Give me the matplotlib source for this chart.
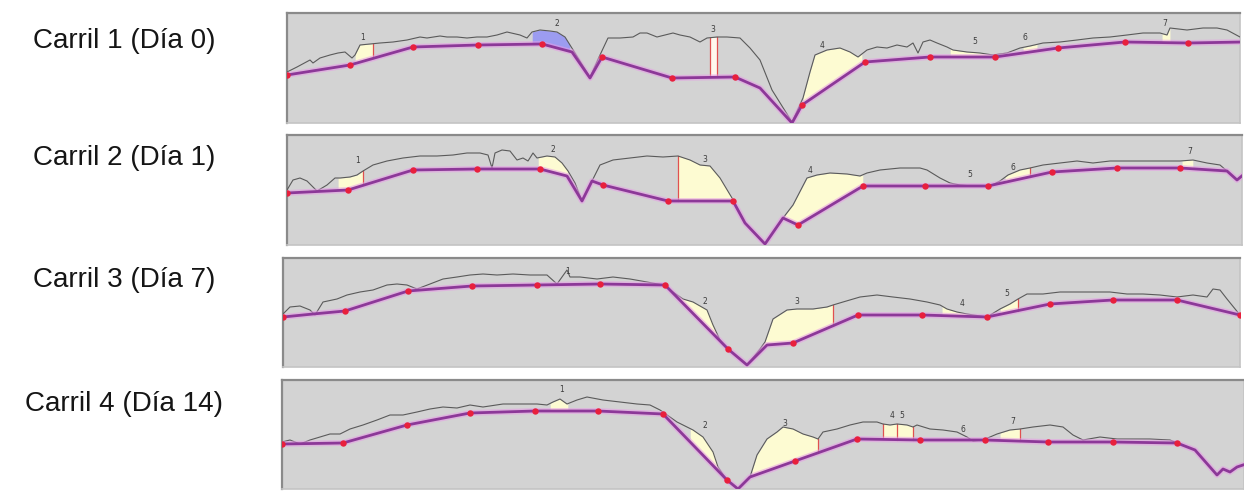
import numpy as np
import matplotlib
matplotlib.use("Agg")
import matplotlib.pyplot as plt

# Perfiles densitométricos de los cuatro carriles (posición, intensidad)

carriles = ["Carril 1 (Día 0)", "Carril 2 (Día 1)", "Carril 3 (Día 7)", "Carril 4 (Día 14)"]

# --- Carril 1 ---
perfil1_x = [287, 297, 310, 313, 320, 330, 338, 345, 352, 355, 360, 370, 380, 393, 407, 420, 427, 440, 447, 457,
             467, 477, 487, 497, 507, 520, 527, 532, 540, 550, 557, 565, 570, 580, 590, 600, 608, 620, 633, 640,
             647, 657, 665, 673, 680, 690, 700, 707, 717, 727, 740, 750, 760, 772, 792, 803, 810, 815, 827, 840,
             850, 858, 867, 877, 887, 897, 907, 913, 918, 923, 930, 937, 947, 953, 967, 980, 993, 1007, 1020, 1030,
             1043, 1060, 1077, 1093, 1110, 1127, 1143, 1160, 1167, 1170, 1187, 1203, 1217, 1227, 1240]
perfil1_y = [51, 56, 63, 60, 65, 68, 70, 71, 65, 68, 78, 79, 80, 81, 83, 86, 85, 87, 86, 86,
             85, 86, 86, 88, 91, 88, 85, 91, 93, 92, 91, 86, 78, 62, 46, 68, 85, 85, 86, 90,
             90, 86, 88, 90, 88, 86, 81, 85, 86, 86, 85, 75, 63, 33, 1, 25, 51, 68, 73, 75,
             71, 66, 73, 76, 75, 78, 76, 80, 70, 81, 83, 80, 76, 73, 71, 70, 68, 70, 75, 77,
             80, 81, 83, 85, 86, 88, 90, 90, 88, 95, 93, 95, 95, 93, 86]
base1_x = [287, 350, 413, 478, 542, 572, 590, 602, 672, 735, 760, 792, 802, 865, 930, 995, 1058, 1125, 1188, 1243]
base1_y = [48, 58, 76, 78, 79, 71, 45, 66, 45, 46, 35, 0, 18, 61, 66, 66, 75, 81, 80, 81]
nodos1 = [287, 350, 413, 478, 542, 602, 672, 735, 802, 865, 930, 995, 1058, 1125, 1188]
picos1 = [(355, 373), (532, 570), (710, 717), (803, 862), (950, 992), (1023, 1037), (1162, 1170)]
colores1 = ["#fdfbd2", "#9c9cf0", "#fff8ee", "#fdfbd2", "#fdfbd2", "#fdfbd2", "#fdfbd2"]
rojas1 = [373, 710, 717]
etiq1_x = [363, 557, 713, 822, 975, 1025, 1165]
etiq1_y = [85, 100, 93, 78, 81, 85, 100]

# --- Carril 2 ---
perfil2_x = [287, 293, 300, 307, 317, 327, 335, 340, 350, 357, 363, 373, 387, 403, 420, 437, 453, 467, 480, 488,
             492, 495, 502, 510, 517, 523, 528, 533, 537, 547, 555, 562, 568, 575, 582, 592, 600, 613, 630, 647,
             663, 678, 690, 700, 710, 720, 732, 745, 765, 783, 793, 807, 817, 830, 847, 860, 867, 880, 900, 920,
             927, 940, 950, 960, 973, 990, 1000, 1008, 1020, 1030, 1043, 1060, 1077, 1093, 1110, 1127, 1143, 1160,
             1180, 1193, 1207, 1220, 1227, 1237, 1243]
perfil2_y = [55, 65, 67, 64, 54, 60, 67, 67, 68, 70, 74, 80, 84, 87, 89, 89, 90, 92, 92, 90,
             77, 92, 95, 94, 85, 87, 84, 92, 87, 89, 88, 82, 74, 62, 44, 64, 80, 85, 87, 89,
             88, 89, 85, 80, 79, 67, 47, 22, 1, 27, 40, 67, 70, 72, 71, 69, 72, 75, 77, 77,
             75, 67, 62, 60, 59, 59, 64, 70, 75, 77, 80, 82, 84, 82, 84, 84, 84, 84,
             84, 85, 82, 80, 74, 65, 70]
base2_x = [287, 348, 413, 477, 540, 567, 582, 592, 603, 668, 733, 745, 765, 783, 798, 863, 925, 988, 1052,
           1117, 1180, 1227, 1237, 1243]
base2_y = [52, 55, 75, 76, 76, 69, 44, 64, 60, 44, 44, 22, 1, 27, 20, 59, 59, 59, 73,
           77, 77, 74, 65, 70]
nodos2 = [287, 348, 413, 477, 540, 603, 668, 733, 798, 863, 925, 988, 1052, 1117, 1180]
picos2 = [(338, 363), (538, 568), (678, 732), (783, 863), (1005, 1030), (1182, 1193)]
colores2 = ["#fdfbd2"] * 6
rojas2 = [363, 678, 1030]
etiq2_x = [358, 553, 705, 810, 970, 1013, 1190]
etiq2_y = [84, 95, 85, 74, 70, 77, 93]

# --- Carril 3 ---
perfil3_x = [283, 290, 300, 310, 315, 323, 337, 347, 360, 373, 387, 397, 407, 417, 430, 443, 457, 470, 483, 497,
             513, 530, 547, 557, 567, 570, 580, 597, 613, 630, 647, 663, 683, 693, 707, 713, 720, 728, 747, 760,
             765, 773, 787, 797, 813, 827, 833, 843, 860, 877, 893, 910, 927, 940, 947, 957, 967, 987, 1000, 1010,
             1018, 1027, 1043, 1060, 1077, 1093, 1110, 1127, 1143, 1160, 1177, 1193, 1207, 1213, 1220, 1227, 1240]
perfil3_y = [53, 60, 61, 57, 52, 65, 68, 72, 75, 77, 82, 83, 82, 78, 83, 88, 90, 92, 93, 92,
             93, 92, 92, 83, 97, 90, 90, 88, 90, 88, 85, 82, 68, 65, 57, 42, 27, 18, 2, 18,
             25, 48, 57, 58, 58, 60, 62, 65, 70, 72, 70, 68, 65, 62, 58, 55, 53, 50, 58, 63,
             68, 73, 73, 75, 75, 75, 75, 73, 73, 72, 70, 72, 70, 78, 77, 68, 52]
base3_x = [283, 313, 345, 408, 472, 537, 600, 665, 728, 747, 760, 767, 793, 858, 922, 987, 1050, 1113, 1177, 1240]
base3_y = [50, 53, 56, 76, 81, 82, 83, 82, 18, 2, 15, 22, 24, 52, 52, 50, 63, 67, 67, 52]
nodos3 = [283, 345, 408, 472, 537, 600, 665, 728, 793, 858, 922, 987, 1050, 1113, 1177, 1240]
picos3 = [(680, 716), (762, 833), (942, 967), (1000, 1018)]
colores3 = ["#fdfbd2"] * 4
rojas3 = [833, 1018]
etiq3_x = [568, 705, 797, 962, 1007]
etiq3_y = [95, 65, 65, 63, 73]

# --- Carril 4 ---
perfil4_x = [282, 290, 300, 310, 320, 330, 340, 350, 363, 377, 390, 403, 417, 430, 443, 457, 470, 483, 503, 523,
             537, 547, 553, 560, 567, 577, 587, 603, 620, 637, 650, 660, 677, 687, 693, 703, 713, 718, 727, 738,
             750, 757, 767, 777, 783, 793, 803, 813, 818, 823, 837, 850, 863, 877, 883, 890, 897, 907, 913, 917,
             930, 943, 957, 967, 973, 983, 997, 1010, 1020, 1033, 1050, 1063, 1073, 1083, 1100, 1117, 1133, 1150,
             1170, 1180, 1195, 1217, 1223, 1230, 1237, 1243]
perfil4_y = [47, 49, 45, 49, 52, 55, 55, 60, 64, 69, 74, 74, 77, 80, 82, 81, 84, 82, 85, 85,
             85, 84, 87, 90, 85, 89, 92, 89, 87, 85, 84, 79, 67, 62, 59, 52, 37, 22, 9, 0,
             12, 34, 50, 57, 62, 60, 55, 52, 50, 57, 60, 64, 67, 67, 65, 64, 65, 64, 62, 64,
             60, 59, 57, 52, 48, 49, 55, 59, 60, 62, 64, 62, 54, 49, 52, 50, 50, 50,
             49, 45, 39, 14, 20, 17, 22, 24]
base4_x = [282, 343, 407, 470, 535, 598, 663, 727, 738, 750, 795, 857, 920, 985, 1048, 1113, 1177, 1195, 1217,
           1223, 1230, 1237, 1243]
base4_y = [45, 46, 64, 76, 78, 78, 75, 9, 0, 12, 28, 50, 49, 49, 47, 47, 46, 39, 14,
           20, 17, 22, 24]
nodos4 = [282, 343, 407, 470, 535, 598, 663, 727, 795, 857, 920, 985, 1048, 1113, 1177]
picos4 = [(550, 568), (690, 720), (752, 818), (883, 913), (1000, 1020)]
colores4 = ["#fdfbd2"] * 5
rojas4 = [818, 883, 897, 913, 1020]
etiq4_x = [562, 705, 785, 892, 902, 963, 1013]
etiq4_y = [99, 64, 65, 74, 74, 59, 67]

# Marcos de cada carril en píxeles: izquierda, derecha, arriba, abajo
marcos = [(287, 1240, 13, 123), (287, 1242, 135, 245), (283, 1240, 258, 367), (282, 1244, 380, 489)]
rotulos_y = [41, 158, 280, 404]

W, H = 1244, 496


def traza_carril(ax, px, py, bx, by, nodos, picos, colores, rojas, ex, ey, marco):
    L, R, T, B = marco
    ax.set_facecolor("#d3d3d3")
    ax.set_xlim(L, R)
    ax.set_ylim(0, B - T)
    ax.set_xticks([])
    ax.set_yticks([])
    for lado in ["top", "left"]:
        ax.spines[lado].set_color("#8a8a8a")
        ax.spines[lado].set_linewidth(1.6)
    for lado in ["bottom", "right"]:
        ax.spines[lado].set_color("#c4c4c4")
        ax.spines[lado].set_linewidth(1.2)

    # relleno de los picos entre el perfil y la línea base
    xs = np.linspace(L, R, 4000)
    p = np.interp(xs, px, py)
    b = np.interp(xs, bx, by)
    for (x0, x1), c in zip(picos, colores):
        m = (xs >= x0) & (xs <= x1) & (p >= b)
        ax.fill_between(xs, b, p, where=m, color=c, lw=0, zorder=1)

    # límites de integración
    for x in rojas:
        ax.plot([x, x], [np.interp(x, bx, by), np.interp(x, px, py)], color="#e05050", lw=0.9, zorder=2)

    ax.plot(px, py, color="#5a5a5a", lw=0.8, zorder=3)
    ax.plot(bx, by, color="#e79ae7", lw=4.2, alpha=0.55, zorder=4, solid_capstyle="round")
    ax.plot(bx, by, color="#8c3898", lw=2.0, zorder=5)
    ax.plot(nodos, np.interp(nodos, bx, by), "o", color="#e8203c", ms=4.6, mec="none", zorder=6)

    for i, (x, y) in enumerate(zip(ex, ey)):
        ax.text(x, y, str(i + 1), fontsize=5.5, color="#3c3c3c", ha="center", va="center", zorder=7)


fig = plt.figure(figsize=(W / 100, H / 100), dpi=100)
fig.patch.set_facecolor("white")

datos = [
    (perfil1_x, perfil1_y, base1_x, base1_y, nodos1, picos1, colores1, rojas1, etiq1_x, etiq1_y),
    (perfil2_x, perfil2_y, base2_x, base2_y, nodos2, picos2, colores2, rojas2, etiq2_x, etiq2_y),
    (perfil3_x, perfil3_y, base3_x, base3_y, nodos3, picos3, colores3, rojas3, etiq3_x, etiq3_y),
    (perfil4_x, perfil4_y, base4_x, base4_y, nodos4, picos4, colores4, rojas4, etiq4_x, etiq4_y),
]

for k in range(4):
    L, R, T, B = marcos[k]
    ax = fig.add_axes([L / W, 1 - B / H, (R - L) / W, (B - T) / H])
    traza_carril(ax, *datos[k], marcos[k])
    fig.text(124 / W, 1 - rotulos_y[k] / H, carriles[k], fontsize=20, family="Liberation Sans",
             color="#151515", ha="center", va="center")

fig.savefig("out.png", dpi=100)
